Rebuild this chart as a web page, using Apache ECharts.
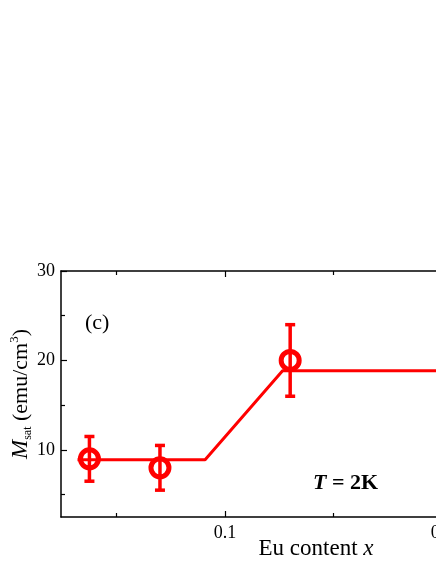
<!DOCTYPE html>
<html>
<head>
<meta charset="utf-8">
<script src="https://cdn.jsdelivr.net/npm/echarts@6/dist/echarts.min.js"></script>
<style>
    html, body { margin: 0; padding: 0; background: #fff; overflow: hidden; }
    #chart { width: 600px; height: 564px; }
</style>
</head>
<body>
<div id="chart"></div>
<script>
    // measured points (Eu content x, Msat)
    var euContent = [0.0375, 0.070, 0.130];
    var msat = [9.0, 8.0, 20.0];
    var errLow = [6.5, 5.5, 16.0];
    var errHigh = [11.5, 10.5, 24.0];

    // fit line (piecewise)
    var fitX = [0.032, 0.0908, 0.1265, 0.30];
    var fitY = [8.9, 8.9, 18.85, 18.85];

    // ticks
    var xMajor = [0.1, 0.2];
    var xMinor = [0.05, 0.15, 0.25];
    var yMajor = [10, 20, 30];
    var yMinor = [5, 15, 25];

    var red = '#ff0000';
    var font = 'Liberation Serif';

    var points = euContent.map(function (x, i) { return [x, msat[i]]; });
    var bars = euContent.map(function (x, i) { return [x, errLow[i], errHigh[i]]; });
    var fit = fitX.map(function (x, i) { return [x, fitY[i]]; });

    function xAx(pos, ticks, len, showLine, showLabel) {
        return {
            type: 'value', position: pos, min: 0.0244, max: 0.2594,
            axisLine: { show: showLine, onZero: false, lineStyle: { color: '#000', width: 1.5 } },
            axisTick: { inside: true, length: len, customValues: ticks, lineStyle: { color: '#000', width: 1.2 } },
            axisLabel: { show: showLabel, customValues: ticks, margin: 7, color: '#000', fontFamily: font, fontSize: 18,
                formatter: function (v) { return v.toFixed(1); } },
            splitLine: { show: false }
        };
    }
    function yAx(pos, ticks, len, showLine, showLabel) {
        return {
            type: 'value', position: pos, min: 2.5, max: 30,
            axisLine: { show: showLine, onZero: false, lineStyle: { color: '#000', width: 1.5 } },
            axisTick: { inside: true, length: len, customValues: ticks, lineStyle: { color: '#000', width: 1.2 } },
            axisLabel: { show: showLabel, customValues: ticks, margin: 6, color: '#000', fontFamily: font, fontSize: 18 },
            splitLine: { show: false }
        };
    }

    var xMain = xAx('bottom', xMajor, 6, true, true);
    xMain.name = 'Eu content {i|x}';
    xMain.nameLocation = 'middle';
    xMain.nameGap = 20;
    xMain.nameMoveOverlap = false;
    xMain.nameTextStyle = { color: '#000', fontFamily: font, fontSize: 23,
        rich: { i: { fontStyle: 'italic', fontFamily: font, fontSize: 23, color: '#000' } } };

    var yMain = yAx('left', yMajor, 6, true, true);
    yMain.name = '{m|M}{s|sat} (emu/cm{p|3})';
    yMain.nameLocation = 'middle';
    yMain.nameGap = 27;
    yMain.nameMoveOverlap = false;
    yMain.nameRotate = 90;
    yMain.nameTextStyle = { color: '#000', fontFamily: font, fontSize: 22, lineHeight: 26,
        rich: {
            m: { fontStyle: 'italic', fontFamily: font, fontSize: 23, color: '#000', lineHeight: 26 },
            s: { fontFamily: font, fontSize: 12, color: '#000', verticalAlign: 'bottom', lineHeight: 26, padding: [16, 0, 0, 0] },
            p: { fontFamily: font, fontSize: 13, color: '#000', verticalAlign: 'top', lineHeight: 26, padding: [0, 0, 12, 0] }
        } };

    var chart = echarts.init(document.getElementById('chart'));
    chart.setOption({
        animation: false,
        grid: { left: 61, right: 29, top: 271, bottom: 47, containLabel: false, outerBoundsMode: 'none' },
        xAxis: [
            xMain,
            xAx('bottom', xMinor, 4, false, false),
            xAx('top', xMajor, 6, true, false),
            xAx('top', xMinor, 4, false, false)
        ],
        yAxis: [
            yMain,
            yAx('left', yMinor, 4, false, false),
            yAx('right', yMajor, 6, true, false),
            yAx('right', yMinor, 4, false, false)
        ],
        graphic: [
            { type: 'text', left: 85, top: 312, style: { text: '(c)', fill: '#000', font: '22px "Liberation Serif"' } },
            { type: 'text', left: 313, top: 472, style: { text: '{i|T} = 2K', fill: '#000',
                font: 'bold 22px "Liberation Serif"',
                rich: { i: { fontStyle: 'italic', fontWeight: 'bold', fontFamily: font, fontSize: 22, fill: '#000' } } } }
        ],
        series: [
            {
                type: 'line', data: fit, symbol: 'none', z: 3,
                lineStyle: { color: red, width: 3 }
            },
            {
                type: 'custom', data: bars, z: 4,
                renderItem: function (params, api) {
                    var lo = api.coord([api.value(0), api.value(1)]);
                    var hi = api.coord([api.value(0), api.value(2)]);
                    var w = 5;
                    var st = { stroke: red, lineWidth: 3.5 };
                    return {
                        type: 'group',
                        children: [
                            { type: 'line', shape: { x1: lo[0], y1: lo[1], x2: hi[0], y2: hi[1] }, style: st },
                            { type: 'line', shape: { x1: lo[0] - w, y1: lo[1], x2: lo[0] + w, y2: lo[1] }, style: st },
                            { type: 'line', shape: { x1: hi[0] - w, y1: hi[1], x2: hi[0] + w, y2: hi[1] }, style: st }
                        ]
                    };
                }
            },
            {
                type: 'scatter', data: points, symbol: 'circle', symbolSize: 18, z: 5,
                itemStyle: { color: 'rgba(255,255,255,0)', borderColor: red, borderWidth: 5, opacity: 1 }
            }
        ]
    });
</script>
</body>
</html>
